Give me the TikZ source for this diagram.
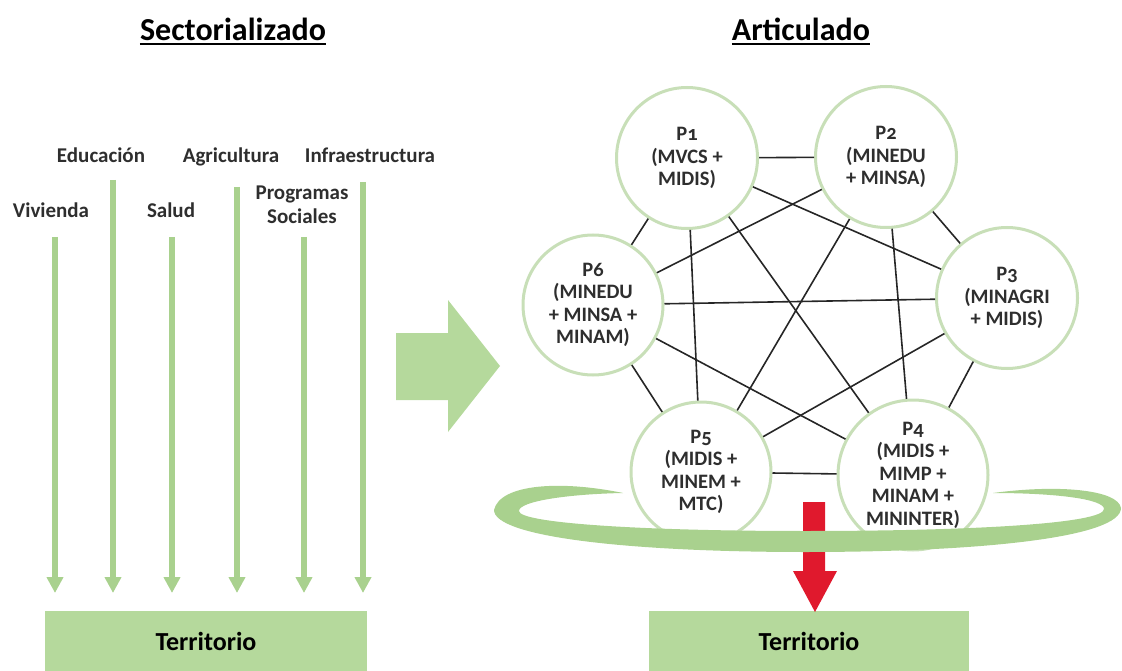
\documentclass[tikz,border=0pt]{standalone}
\usepackage{fontspec}
\setmainfont{Carlito}
\usetikzlibrary{arrows.meta}
\definecolor{lgreen}{HTML}{A9D18E}
\definecolor{boxgreen}{HTML}{B5D99C}
\definecolor{circgreen}{HTML}{C8DFB8}
\definecolor{redarrow}{HTML}{E0192D}
\definecolor{txt}{HTML}{2E2E2E}
\begin{document}
\begin{tikzpicture}[x=1pt,y=-1pt,
  titlestyle/.style={font=\bfseries\fontsize{32}{36}\selectfont, inner sep=0pt},
  sec/.style={font=\bfseries\fontsize{21}{24}\selectfont, text=txt, inner sep=0pt, align=center},
  garrow/.style={draw=lgreen, line width=6pt, -{Triangle[width=16pt,length=16pt]}},
  terrbox/.style={fill=boxgreen, inner sep=0pt, font=\bfseries\fontsize{26}{28}\selectfont, text=black},
  pnode/.style={circle, draw=circgreen, line width=3pt, fill=white, align=center,
    font=\bfseries\fontsize{20.5}{22.5}\selectfont\addfontfeature{Numbers=OldStyle}, text=txt, inner sep=0pt, minimum size=#1},
  edge/.style={draw=black!85, line width=1.6pt}
]
\useasboundingbox (0,0) rectangle (1122,671);

% titles
\node[titlestyle] (t1) at (233,29) {Sectorializado};
\node[titlestyle] (t2) at (801,29) {Articulado};
\draw[line width=2pt] ([yshift=-4pt]t1.base west) -- ([yshift=-4pt]t1.base east);
\draw[line width=2pt] ([yshift=-4pt]t2.base west) -- ([yshift=-4pt]t2.base east);

% sector labels
\node[sec, anchor=base] (edu) at (101,163) {Educación};
\node[sec, anchor=base] (agr) at (231,163) {Agricultura};
\node[sec, anchor=base] (inf) at (370,163) {Infraestructura};
\node[sec, anchor=base] (viv) at (51,218) {Vivienda};
\node[sec, anchor=base] (sal) at (171,218) {Salud};
\node[sec] (pro) at (302,205) {Programas\\Sociales};

% territorio boxes
\node[terrbox, minimum width=322pt, minimum height=60pt] (terrL) at (206,641) {Territorio};
\node[terrbox, minimum width=320pt, minimum height=60pt] (terrR) at (809,641) {Territorio};

% green sector arrows
\coordinate (a1s) at (55,237);  \coordinate (a1e) at (55,593);
\coordinate (a2s) at (113,180); \coordinate (a2e) at (113,593);
\coordinate (a3s) at (172,237); \coordinate (a3e) at (172,593);
\coordinate (a4s) at (237,187); \coordinate (a4e) at (237,593);
\coordinate (a5s) at (304,237); \coordinate (a5e) at (304,593);
\coordinate (a6s) at (363,182); \coordinate (a6e) at (363,593);
\foreach \i in {1,...,6} \draw[garrow] (a\i s) -- (a\i e);

% big green arrow
\fill[boxgreen] (396,333) -- (448,333) -- (448,300) -- (500,366) -- (448,432) -- (448,400) -- (396,400) -- cycle;

% circles
\node[pnode=141pt] (P1) at (687,158) {P1\\(MVCS +\\MIDIS)};
\node[pnode=141pt] (P2) at (886,157) {P2\\(MINEDU\\+ MINSA)};
\node[pnode=141pt] (P3) at (1007,298) {P3\\(MINAGRI\\+ MIDIS)};
\node[pnode=150pt] (P4) at (913,475) {P4\\(MIDIS +\\MIMP +\\MINAM +\\MININTER)};
\node[pnode=140pt] (P5) at (701,472) {P5\\(MIDIS +\\MINEM +\\MTC)};
\node[pnode=140pt] (P6) at (593,305) {P6\\(MINEDU\\+ MINSA +\\MINAM)};

\foreach \a/\b in {P1/P2,P1/P3,P1/P4,P1/P5,P1/P6,P2/P3,P2/P4,P2/P5,P2/P6,P3/P4,P3/P5,P3/P6,P4/P5,P4/P6,P5/P6}
  \draw[edge] (\a) -- (\b);

% red arrow
\fill[redarrow] (803,502) -- (825,502) -- (825,571) -- (837,571) -- (815,612) -- (793,571) -- (803,571) -- cycle;

% swoosh ring
\fill[lgreen] (494,510) .. controls (494,537) and (630,552) .. (805,552)
  .. controls (985,552) and (1121,537) .. (1121,508)
  .. controls (1118,490) and (1060,484) .. (993,493)
  .. controls (1055,493) and (1104,499) .. (1104,509)
  .. controls (1104,523) and (980,531) .. (805,531)
  .. controls (640,531) and (519,523) .. (519,511)
  .. controls (519,501) and (570,494) .. (623,493)
  .. controls (560,480) and (500,484) .. (494,510) -- cycle;
\end{tikzpicture}
\end{document}
